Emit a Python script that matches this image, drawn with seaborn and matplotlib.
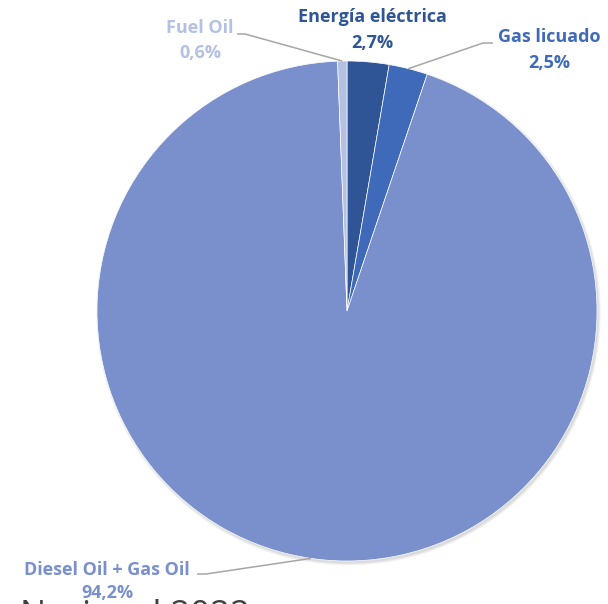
import numpy as np
import matplotlib
matplotlib.use("Agg")
import matplotlib.pyplot as plt
from matplotlib.patches import Circle
import seaborn as sns

# Energy consumption shares by source (%)
categories = ["Energía eléctrica", "Gas licuado", "Diesel Oil + Gas Oil", "Fuel Oil"]
shares = [2.7, 2.5, 94.2, 0.6]
value_labels = ["2,7%", "2,5%", "94,2%", "0,6%"]
colors = ["#2F5597", "#3E6AB9", "#7A90CC", "#B4C1E2"]

sns.set_theme(style="white")
plt.rcParams["font.family"] = ["Open Sans", "DejaVu Sans"]

W, H = 608, 604
fig = plt.figure(figsize=(W / 100, H / 100), dpi=100)
ax = fig.add_axes([0, 0, 1, 1])

cx, cy, r = 347, H - 311, 250

# soft drop shadow under the pie, offset down and to the right
for k in range(6):
    ax.add_patch(Circle((cx + 1.5, cy - 2.0), r + 0.5 * k, facecolor="black",
                        edgecolor="none", alpha=0.025, zorder=0))

wedges, _ = ax.pie(shares, colors=colors, startangle=90, counterclock=False,
                   center=(cx, cy), radius=r, normalize=True,
                   wedgeprops=dict(edgecolor="white", linewidth=0.5, zorder=2))

ax.set_xlim(0, W)
ax.set_ylim(0, H)
ax.set_aspect("equal")
ax.axis("off")


def edge_point(w):
    ang = np.deg2rad((w.theta1 + w.theta2) / 2)
    return cx + r * np.cos(ang), cy + r * np.sin(ang)


# label anchor positions (image pixels, y measured from top)
label_pos = {
    "Energía eléctrica": (372, 17, 43),
    "Gas licuado": (549, 37, 63),
    "Diesel Oil + Gas Oil": (107, 570, 593),
    "Fuel Oil": (200, 28, 53),
}
# leader line start points (image pixels)
leaders = {
    "Gas licuado": [(493, 43), (483, 43)],
    "Diesel Oil + Gas Oil": [(197, 574), (206, 574)],
    "Fuel Oil": [(237, 34), (245, 34)],
}

for w, cat, val, col in zip(wedges, categories, value_labels, colors):
    x, y1, y2 = label_pos[cat]
    ax.text(x, H - y1, cat, ha="center", va="center", fontsize=13,
            fontweight="bold", color=col, zorder=5)
    ax.text(x, H - y2, val, ha="center", va="center", fontsize=13,
            fontweight="bold", color=col, zorder=5)
    if cat in leaders:
        pts = [(px, H - py) for px, py in leaders[cat]] + [edge_point(w)]
        xs, ys = zip(*pts)
        ax.plot(xs, ys, color="#A6A6A6", lw=1.1, zorder=4, solid_capstyle="butt")

# caption running off the bottom of the frame
ax.text(250, -21, "Nacional 2022", ha="right", va="baseline", fontsize=25,
        color="#404040", zorder=1, clip_on=False)

fig.savefig("out.png", dpi=100, facecolor="white")
